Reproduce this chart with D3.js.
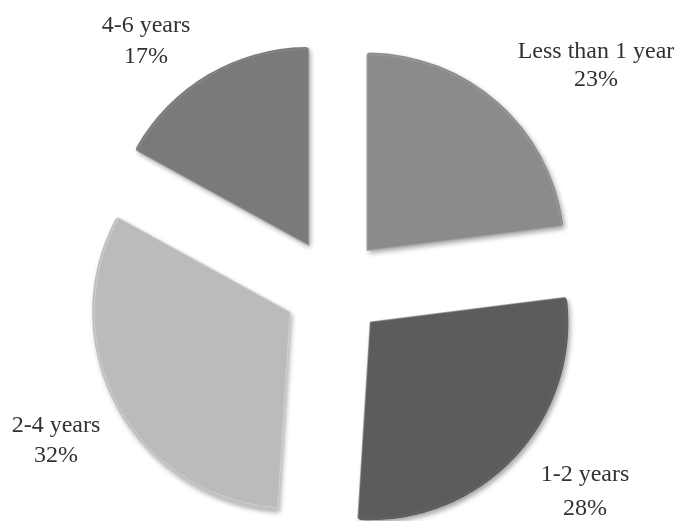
<!DOCTYPE html>
<html>
<head>
<meta charset="utf-8">
<script src="https://cdn.jsdelivr.net/npm/d3@7"></script>
<style>
  html, body { margin: 0; padding: 0; background: #ffffff; }
  svg { display: block; }
  .lbl { font-family: "Liberation Serif", "Times New Roman", serif; font-size: 24px; fill: #333333; }
</style>
</head>
<body>
<svg id="chart" width="678" height="521"></svg>
<script>
// Share of respondents by length of experience
const categories = ["Less than 1 year", "1-2 years", "2-4 years", "4-6 years"];
const shares = [23, 28, 32, 17];
const sliceColors = ["#8b8b8b", "#5c5c5c", "#bbbbbb", "#7a7a7a"];
const percentLabels = ["23%", "28%", "32%", "17%"];
// label anchor positions (centre x, first baseline y, line gap)
const labelX = [596, 585, 56, 146];
const labelY = [58, 481, 432, 32];
const labelGap = [28, 34, 30, 31];

const width = 678, height = 521;
const cx = 334, cy = 288, radius = 198, explode = 50;

const svg = d3.select("#chart");
const defs = svg.append("defs");

// soft drop shadow under each slice
const shadow = defs.append("filter").attr("id", "shadow")
  .attr("x", "-20%").attr("y", "-20%").attr("width", "140%").attr("height", "140%");
shadow.append("feGaussianBlur").attr("in", "SourceAlpha").attr("stdDeviation", 2.5).attr("result", "blur");
shadow.append("feOffset").attr("in", "blur").attr("dx", 2).attr("dy", 3).attr("result", "off");
shadow.append("feComponentTransfer").attr("in", "off").attr("result", "shade")
  .append("feFuncA").attr("type", "linear").attr("slope", 0.35);
const merge = shadow.append("feMerge");
merge.append("feMergeNode").attr("in", "shade");
merge.append("feMergeNode").attr("in", "SourceGraphic");

// slight softening for the text
const soft = defs.append("filter").attr("id", "soft");
soft.append("feGaussianBlur").attr("stdDeviation", 0.4);

const pie = d3.pie().sort(null).value(d => d).startAngle(0).endAngle(2 * Math.PI);
const arcs = pie(shares);

const arc = d3.arc().innerRadius(0).outerRadius(radius).cornerRadius(3);
const bevel = d3.arc().innerRadius(0).outerRadius(radius - 2);

const g = svg.append("g").attr("transform", `translate(${cx},${cy})`);

const slice = g.selectAll("g.slice").data(arcs).join("g")
  .attr("class", "slice")
  .attr("transform", d => {
    const a = (d.startAngle + d.endAngle) / 2;
    return `translate(${explode * Math.sin(a)},${-explode * Math.cos(a)})`;
  });

slice.append("path")
  .attr("d", arc)
  .attr("fill", (d, i) => sliceColors[i])
  .attr("filter", "url(#shadow)");

// light rim giving the bevelled edge
slice.append("path")
  .attr("d", bevel)
  .attr("fill", "none")
  .attr("stroke", (d, i) => d3.color(sliceColors[i]).brighter(0.35))
  .attr("stroke-width", 1.5)
  .attr("stroke-opacity", 0.6);

// category and percentage labels
const labels = svg.append("g").attr("filter", "url(#soft)");
categories.forEach((c, i) => {
  const t = labels.append("text").attr("class", "lbl").attr("text-anchor", "middle");
  t.append("tspan").attr("x", labelX[i]).attr("y", labelY[i]).text(c);
  t.append("tspan").attr("x", labelX[i]).attr("y", labelY[i] + labelGap[i]).text(percentLabels[i]);
});
</script>
</body>
</html>
